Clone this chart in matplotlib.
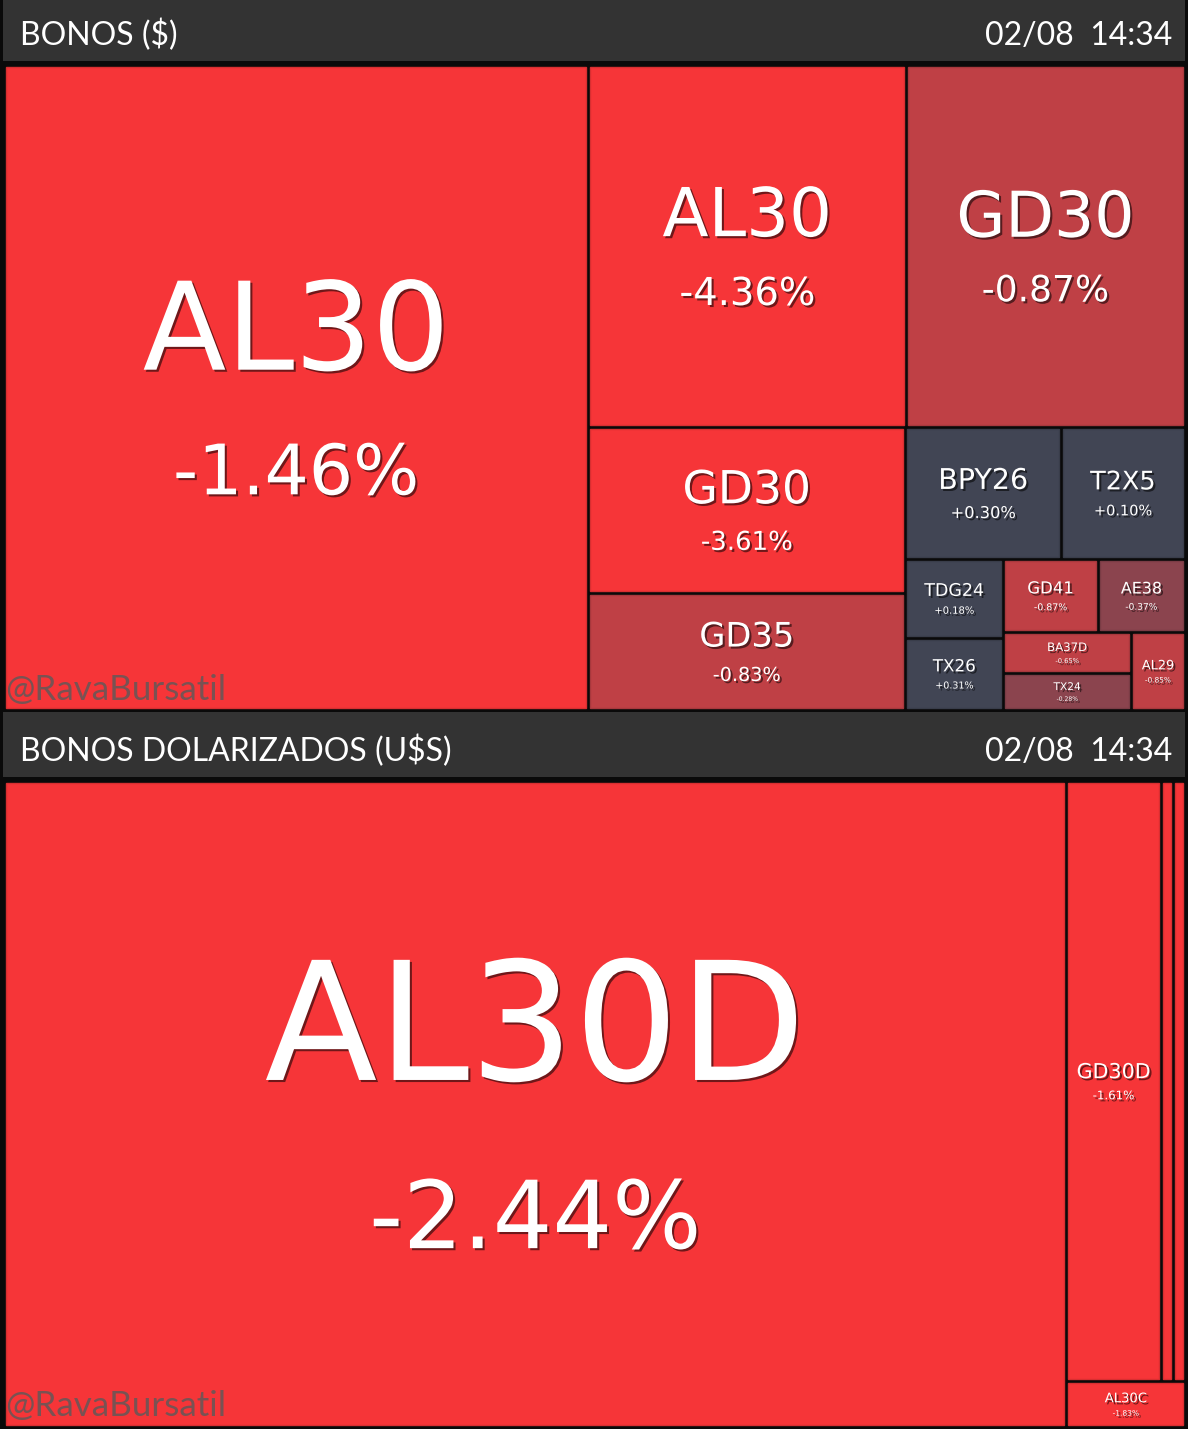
import numpy as np
import matplotlib
matplotlib.use("Agg")
import matplotlib.pyplot as plt
from matplotlib.patches import Rectangle
import matplotlib.patheffects as pe

###############################################################################
# data
top_title = "BONOS ($)"
bot_title = "BONOS DOLARIZADOS (U$S)"
stamp = "02/08  14:34"
watermark = "@RavaBursatil"

top_names = ["AL30", "AL30", "GD30", "GD30", "GD35", "BPY26", "T2X5",
             "TDG24", "TX26", "GD41", "AE38", "BA37D", "TX24", "AL29"]
top_volume = [377, 115, 101, 52.6, 37.1, 20.6, 16.4, 7.7, 7.1, 6.9, 6.4, 5.2, 4.7, 4.2]
top_change = [-1.46, -4.36, -0.87, -3.61, -0.83, 0.30, 0.10, 0.18, 0.31,
              -0.87, -0.37, -0.65, -0.28, -0.85]
top_strips = [1, 2, 2, 2, 2, 2, 2, 1]

bot_names = ["AL30D", "GD30D", "GD35D", "AL35D", "AL30C"]
bot_volume = [685, 56.4, 7.3, 7.3, 5.4]
bot_change = [-2.44, -1.61, -1.32, -1.18, -1.83]
bot_strips = [1, 3, 1]

color_edges = [-1.0, -0.5, 0.0]
color_list = ["#f63538", "#bf4045", "#8b444e", "#414554"]

###############################################################################
W, H, DPI = 1200, 1429, 100
PT = 72.0 / DPI  # points per pixel


def strip_layout(values, strips, x0, y0, x1, y1):
    # alternating strips: first a column on the left, then a row on top, ...
    rects = []
    i = 0
    vertical = True
    remaining = float(sum(values))
    for n in strips:
        grp = values[i:i + n]
        s = float(sum(grp))
        w, h = x1 - x0, y1 - y0
        if vertical:
            t = w * s / remaining
            yy = y0
            for v in grp:
                hh = h * v / s
                rects.append((x0, yy, t, hh))
                yy += hh
            x0 += t
        else:
            t = h * s / remaining
            xx = x0
            for v in grp:
                ww = w * v / s
                rects.append((xx, y0, ww, t))
                xx += ww
            y0 += t
        remaining -= s
        i += n
        vertical = not vertical
    return rects


def label_cap(w, h, name):
    return min(0.145 * np.sqrt(w * h), 0.8 * w / len(name), 0.21 * h)


def draw_panel(ax, names, volume, change, strips, box):
    x0, y0, x1, y1 = box
    rects = strip_layout(volume, strips, x0, y0, x1, y1)
    cidx = np.digitize(change, color_edges)
    shadow = [pe.withSimplePatchShadow(offset=(1.5, -1.5), shadow_rgbFace="black", alpha=0.55)]
    for (x, y, w, h), nm, ch, ci in zip(rects, names, change, cidx):
        col = color_list[ci]
        ax.add_patch(Rectangle((x + 2, y + 2), w - 4, h - 4, facecolor=col,
                               edgecolor=matplotlib.colors.to_hex(
                                   np.array(matplotlib.colors.to_rgb(col)) * 0.88),
                               lw=1.0))
        c = label_cap(w, h, nm)
        if c < 4:
            continue
        xc, yc = x + w / 2, y + h / 2
        fs = c / 0.729 * PT
        ax.text(xc, yc - 0.2 * c, nm, color="white", fontsize=fs, ha="center",
                va="baseline", family="DejaVu Sans", path_effects=shadow)
        ax.text(xc, yc + 1.2 * c, f"{ch:+.2f}%", color="white",
                fontsize=fs * 0.57, ha="center", va="baseline", family="DejaVu Sans",
                path_effects=shadow)


def draw_header(ax, y0, y1, title):
    ax.add_patch(Rectangle((3, y0), 1182, y1 - y0, facecolor="#333333", lw=0))
    base = y1 - 16
    ax.text(20, base, title, color="white", fontsize=32 * PT, ha="left",
            va="baseline", family=["Lato", "DejaVu Sans"])
    ax.text(1172, base, stamp, color="white", fontsize=32 * PT, ha="right",
            va="baseline", family=["Lato", "DejaVu Sans"])


fig = plt.figure(figsize=(W / DPI, H / DPI), dpi=DPI, facecolor="white")
ax = fig.add_axes([0, 0, 1, 1])
ax.set_xlim(0, W)
ax.set_ylim(H, 0)
ax.axis("off")

ax.add_patch(Rectangle((0, 0), 1188, H, facecolor="#0a0a0a", lw=0))

draw_header(ax, 0, 61, top_title)
draw_panel(ax, top_names, top_volume, top_change, top_strips, (4, 65, 1185, 710))
ax.text(5, 700, watermark, color="#5a5a5a", alpha=0.8, fontsize=35 * PT,
        ha="left", va="baseline", family=["Lato", "DejaVu Sans"])

draw_header(ax, 712, 777, bot_title)
draw_panel(ax, bot_names, bot_volume, bot_change, bot_strips, (4, 781, 1185, 1427))
ax.text(5, 1416, watermark, color="#5a5a5a", alpha=0.8, fontsize=35 * PT,
        ha="left", va="baseline", family=["Lato", "DejaVu Sans"])

fig.savefig("out.png", dpi=DPI, facecolor=fig.get_facecolor())
